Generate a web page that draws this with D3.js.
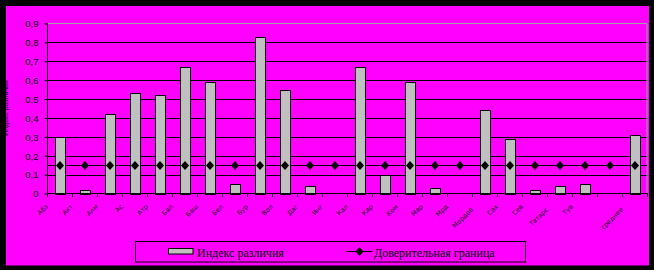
<!DOCTYPE html>
<html><head><meta charset="utf-8">
<script src="https://cdn.jsdelivr.net/npm/d3@7"></script>
<style>html,body{margin:0;padding:0;background:#000;}svg{display:block;}</style>
</head><body>
<script>
const categories = ["Абз","Акт","Алм","Ас","Атр","Бал","Баш","Бел","Бур","Вол","Даг","Инг","Кал","Кар","Ком","Мар","Мрд","Мордов","Сах","Сев","Татарс","Тув","","среднее"];
const indexValues = [0.30,0.02,0.42,0.53,0.52,0.67,0.59,0.05,0.83,0.55,0.04,null,0.67,0.10,0.59,0.03,null,0.44,0.29,0.02,0.04,0.05,null,0.31];
const boundValues = [0.15,0.15,0.15,0.15,0.15,0.15,0.15,0.15,0.15,0.15,0.15,0.15,0.15,0.15,0.15,0.15,0.15,0.15,0.15,0.15,0.15,0.15,0.15,0.15];
const yTicks = [0,0.1,0.2,0.3,0.4,0.5,0.6,0.7,0.8,0.9];
const seriesNames = ["Индекс различия","Доверительная граница"];

const W=654,H=270;
const svg=d3.select("body").append("svg").attr("width",W).attr("height",H);
svg.append("rect").attr("width",W).attr("height",H).attr("fill","#000");
svg.append("rect").attr("x",6).attr("y",6).attr("width",643).attr("height",259.5).attr("fill","#ff00ff");

const x=d3.scaleBand().domain(d3.range(categories.length)).range([47.5,647.5]).paddingInner(0).paddingOuter(0);
const y=d3.scaleLinear().domain([0,0.9]).range([193.5,23.5]);
const bw=x.bandwidth();

// gridlines
svg.append("g").selectAll("line").data(yTicks.filter(t=>t>0&&t<0.9)).join("line")
  .attr("x1",47.5).attr("x2",647.5).attr("y1",d=>Math.round(y(d))+0.5).attr("y2",d=>Math.round(y(d))+0.5)
  .attr("stroke","#000").attr("stroke-width",1);
// plot border (gray top/right)
svg.append("path").attr("d",`M47.5,${y(0.9)}H647V${y(0)}`).attr("fill","none").attr("stroke","#a0a0a0").attr("stroke-width",1);

// confidence line behind bars
const line=d3.line().x((d,i)=>i===0?47.5:(i===boundValues.length-1?647:x(i)+bw/2)).y(d=>Math.round(y(d))+0.5);
svg.append("path").datum(boundValues).attr("d",line).attr("fill","none").attr("stroke","#000").attr("stroke-width",1);

// bars
const barW=11;
svg.append("g").selectAll("rect").data(indexValues.map((v,i)=>({v,i})).filter(d=>d.v!==null)).join("rect")
  .attr("x",d=>Math.round(x(d.i)+bw/2-barW/2)+0.5)
  .attr("y",d=>Math.round(y(d.v))+0.5)
  .attr("width",barW-1)
  .attr("height",d=>Math.round(y(0))-Math.round(y(d.v)))
  .attr("fill","#c0c0c0").attr("stroke","#000").attr("stroke-width",1);

// diamonds
const diamond="M0,-4.5L4,0L0,4.5L-4,0Z";
svg.append("g").selectAll("path").data(boundValues).join("path")
  .attr("d",diamond)
  .attr("transform",(d,i)=>`translate(${x(i)+bw/2},${Math.round(y(d))+0.5})`)
  .attr("fill","#000");

// axes
const yAxis=d3.axisLeft(y).tickValues(yTicks).tickSize(3).tickFormat(d=>d===0?"0":d3.format(".1f")(d).replace(".",","));
const gy=svg.append("g").attr("transform","translate(47.5,0)").call(yAxis);
gy.select(".domain").attr("stroke","#000").attr("d",`M0,${y(0.9)}V${y(0)}`);
gy.selectAll(".tick line").attr("stroke","#000");
gy.selectAll(".tick text").attr("font-family","Liberation Sans, Arial, sans-serif").attr("font-size","9.5px").attr("fill","#000").attr("x",-9).attr("dy","0.35em");

const xAxisG=svg.append("g");
xAxisG.append("line").attr("x1",47.5).attr("x2",647.5).attr("y1",y(0)).attr("y2",y(0)).attr("stroke","#000");
xAxisG.selectAll("line.t").data(d3.range(categories.length+1)).join("line").attr("class","t")
  .attr("x1",i=>i<categories.length?x(i):647.5).attr("x2",i=>i<categories.length?x(i):647.5)
  .attr("y1",y(0)).attr("y2",y(0)+3.5).attr("stroke","#000");
xAxisG.selectAll("text").data(categories).join("text")
  .attr("transform",(d,i)=>`translate(${x(i)+1},${d.length>5?210:207}) rotate(-45)`)
  .attr("text-anchor","end")
  .attr("font-family","DejaVu Sans, sans-serif").attr("font-size","6.5px").attr("fill","#111")
  .text(d=>d);

// y axis title (mostly hidden in left frame)
svg.append("text").attr("transform","translate(8,108) rotate(-90)").attr("text-anchor","middle")
  .attr("font-family","Liberation Sans, sans-serif").attr("font-size","7px").attr("fill","#000")
  .text("Индекс различия");

// legend
const lg=svg.append("g");
lg.append("rect").attr("x",135.5).attr("y",241.5).attr("width",390).attr("height",20.5).attr("fill","none").attr("stroke","#000");
lg.append("rect").attr("x",168.5).attr("y",248.5).attr("width",24.5).attr("height",5.5).attr("fill","#c0c0c0").attr("stroke","#000");
lg.append("text").attr("x",197).attr("y",256.5).attr("font-family","Liberation Serif, Times New Roman, serif").attr("font-size","12px").attr("fill","#000").text(seriesNames[0]);
lg.append("line").attr("x1",346.5).attr("x2",372.5).attr("y1",251.5).attr("y2",251.5).attr("stroke","#000");
lg.append("path").attr("d",diamond).attr("transform","translate(359.5,251.5)").attr("fill","#000");
lg.append("text").attr("x",374).attr("y",256.5).attr("font-family","Liberation Serif, Times New Roman, serif").attr("font-size","12px").attr("fill","#000").text(seriesNames[1]);
</script>
</body></html>
